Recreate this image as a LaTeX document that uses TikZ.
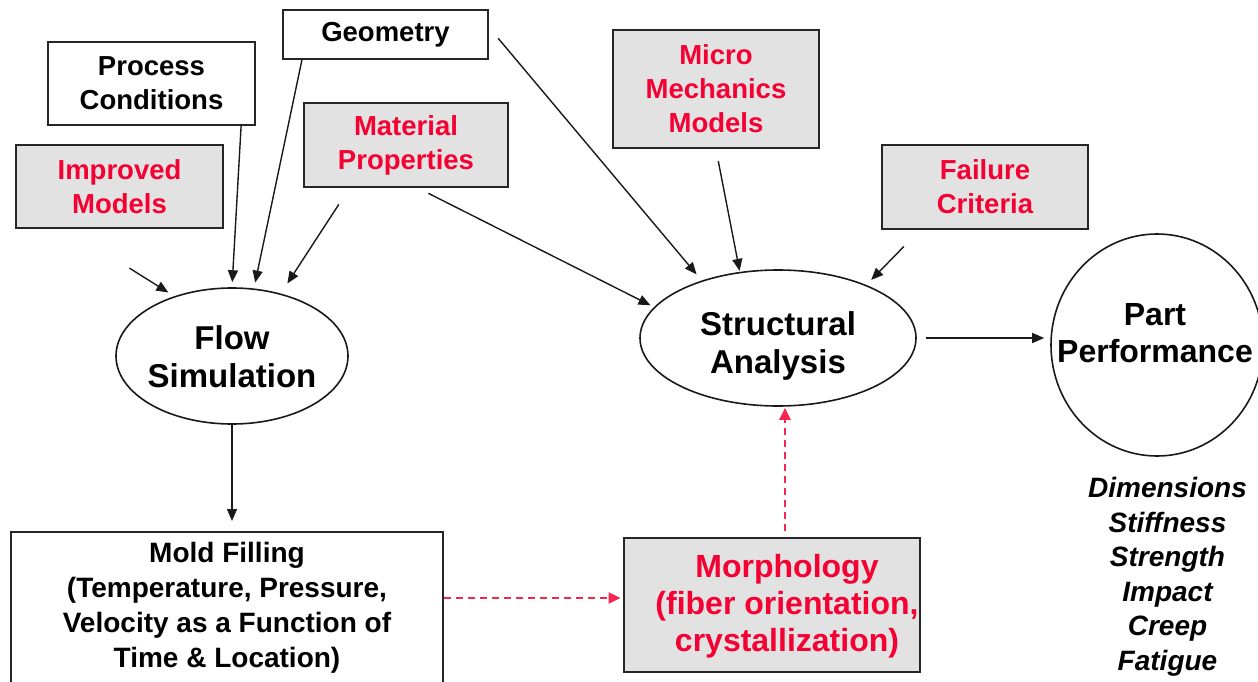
\documentclass[tikz,border=0pt]{standalone}
\usepackage{fontspec}
\setmainfont{Liberation Sans}
\usetikzlibrary{arrows.meta,shapes.geometric,calc}
\definecolor{myred}{RGB}{245,0,50}
\definecolor{boxfill}{RGB}{226,226,226}
\begin{document}
\begin{tikzpicture}[x=1pt,y=-1pt,
  box/.style={draw=black!85, line width=2.2pt, align=center, inner sep=0pt,
    font=\fontsize{27.5}{34}\selectfont\bfseries},
  shbox/.style={box, fill=boxfill, text=myred, line width=2.8pt},
  oval/.style={draw=black!90, line width=1.6pt, ellipse, inner sep=0pt},
  lbl/.style={align=center, inner sep=0pt},
  arr/.style={-{Triangle[length=12pt,width=10pt]}, line width=1.4pt, black!90},
  redarr/.style={-{Triangle[length=12pt,width=11pt]}, line width=2pt, myred!85, dash pattern=on 7pt off 5pt}
]
\useasboundingbox (0,0) rectangle (1258,682);

% boxes
\node[box, minimum width=207pt, minimum height=83pt] (proc) at (151.5,83.5) {Process\\Conditions};
\node[shbox, minimum width=207pt, minimum height=83pt] (impr) at (119.5,186.5) {Improved\\Models};
\node[box, minimum width=205pt, minimum height=49pt] (geom) at (385.5,34.5) {Geometry};
\node[shbox, minimum width=204pt, minimum height=84pt] (mat) at (406,145) {Material\\Properties};
\node[shbox, minimum width=206pt, minimum height=118pt] (micro) at (716,89) {Micro\\Mechanics\\Models};
\node[shbox, minimum width=206pt, minimum height=84pt] (fail) at (985,187) {Failure\\Criteria};

% ellipses
\node[oval, minimum width=232pt, minimum height=136pt] (flow) at (232,356) {};
\node[lbl, font=\fontsize{33}{38}\selectfont\bfseries] (flowtxt) at (232,357) {Flow\\Simulation};
\node[oval, minimum width=276pt, minimum height=136pt] (struct) at (778,338) {};
\node[lbl, font=\fontsize{33}{38}\selectfont\bfseries] (structtxt) at (778,346) {Structural\\Analysis};
\node[oval, minimum width=212pt, minimum height=222pt] (part) at (1157,345) {};
\node[lbl, font=\fontsize{32}{37}\selectfont\bfseries] (parttxt) at (1155,333) {Part\\Performance};

% bottom boxes
\node[box, line width=2pt, minimum width=432pt, minimum height=168pt] (mold) at (227,616) {};
\node[lbl, font=\fontsize{28}{35}\selectfont\bfseries] (moldtxt) at (227,608) {Mold Filling\\(Temperature, Pressure,\\Velocity as a Function of\\Time \& Location)};
\node[shbox, minimum width=296pt, minimum height=134pt] (morph) at (772,605) {};
\node[lbl, text=myred, font=\fontsize{32}{37}\selectfont\bfseries] (morphtxt) at (787,606) {Morphology\\(fiber orientation,\\crystallization)};

% list
\node[lbl, font=\fontsize{28}{34.5}\selectfont\bfseries\itshape] (list) at (1167.5,577) {Dimensions\\Stiffness\\Strength\\Impact\\Creep\\Fatigue};

% connectors into flow simulation
\draw[arr, shorten <=73pt, shorten >=7pt] ([xshift=53pt]impr.south west) -- (flow.134.5);
\draw[arr, shorten >=5pt] ([xshift=-15pt]proc.south east) -- (flow.north);
\draw[arr, shorten >=6pt] ([xshift=20pt]geom.south west) -- (flow.72);
\draw[arr, shorten <=19pt, shorten >=12pt] ([xshift=46.6pt]mat.south west) -- (flow.52.5);

% connectors into structural analysis
\draw[arr, shorten <=14pt, shorten >=8pt] ([yshift=7pt]geom.east) -- (struct.143);
\draw[arr, shorten <=11pt, shorten >=4pt] ([xshift=116pt]mat.south west) -- (struct.166);
\draw[arr, shorten <=12pt, shorten >=1pt] (micro.south) -- (struct.120);
\draw[arr, shorten <=22.6pt, shorten >=7pt] ([xshift=39pt]fail.south west) -- (struct.31);

\draw[arr, shorten <=9pt, shorten >=6pt] (struct.east) -- (struct.east -| part.west);
\draw[arr, shorten <=0pt, shorten >=10pt] (flow.south) -- (flow.south |- mold.north);

% red dashed connectors
\draw[redarr, shorten >=2pt] ([yshift=7pt]morph.west -| mold.east) -- ([yshift=7pt]morph.west);
\draw[redarr, shorten <=6pt, shorten >=1pt] ([xshift=13pt]morph.north) -- ([xshift=13pt]morph.north |- struct.south);
\end{tikzpicture}
\end{document}
